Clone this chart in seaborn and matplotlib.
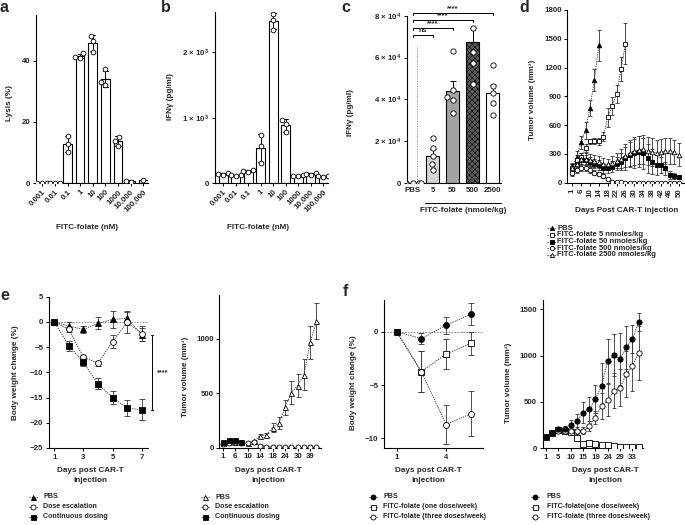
import numpy as np
import pandas as pd
import matplotlib
matplotlib.use('Agg')
import matplotlib.pyplot as plt
from matplotlib.lines import Line2D
import matplotlib.transforms as mtransforms
import seaborn as sns

# ---------------- data ----------------
# panel a: lysis (%) replicates per FITC-folate concentration
a_conc = ['0.001', '0.01', '0.1', '1', '10', '100', '1000', '10,000', '100,000']
a_lysis = [[0.0, 0.0, 0.0], [0.0, 0.0, 0.0], [15.5, 12.8, 10.0], [42.5, 41.0, 41.3],
           [48.2, 46.5, 43.0], [37.2, 33.0, 32.0], [15.2, 12.2, 13.8], [0.3, 0.8], [1.0]]
# panel b: IFNg (pg/ml) replicates
b_conc = ['0.001', '0.01', '0.1', '1', '10', '100', '1000', '10,000', '100,000']
b_ifng = [[150, 120, 140], [125, 110, 120], [195, 170, 180], [730, 570, 300],
          [2590, 2505, 2345], [970, 900, 780], [130, 100, 110], [150, 130, 140], [110, 95, 100]]
# panel c: IFNg in vivo
c_groups = ['PBS', '5', '50', '500', '2500']
c_mean = [0, 13100, 44000, 67200, 43100]
c_sem = [0, 3300, 4900, 6700, 3700]
c_points = [[0, 0, 0, 0, 0], [21600, 16500, 12900, 9300, 6400],
            [63100, 44700, 41200, 39600, 33500], [74000, 62800, 57200, 47300],
            [56400, 46500, 43200, 38400, 32700]]
c_colors = ['#ffffff', '#d6d6d6', '#a3a3a3', '#5e5e5e', '#ffffff']
c_sig_labels = ['ns', '****', '****', '****']
c_sig_heights = [70800, 74200, 78000, 81300]
# panel d: tumor volume
d_days = [1, 4, 6, 8, 10, 12, 14, 16, 18, 20, 22, 24, 26, 28, 30, 32, 34, 36, 38, 40, 42, 44, 46, 48, 50]
d_pbs = [170, 270, 420, 545, 780, 1075, 1430]
d_pbs_err = [40, 60, 70, 90, 85, 115, 165]
d_5 = [150, 240, 270, 360, 430, 435, 430, 480, 680, 800, 925, 1185, 1450]
d_5_err = [40, 50, 40, 40, 30, 30, 40, 45, 95, 95, 95, 120, 215]
d_50 = [120, 200, 240, 236, 220, 200, 185, 150, 150, 167, 200, 220, 255, 290, 305, 325,
        305, 255, 220, 185, 185, 150, 80, 70, 60]
d_50_err = [40, 50, 50, 50, 50, 50, 50, 50, 50, 60, 70, 90, 120, 130, 150, 160,
            160, 150, 130, 100, 80, 70, 40, 30, 25]
d_500 = [100, 130, 150, 150, 130, 105, 90, 70, 35, 12, 5, 3, 2, 2, 2, 2, 2, 2, 2, 2, 2, 2, 2, 2, 2]
d_500_err = [30, 30, 30, 30, 30, 25, 25, 20, 15, 8, 4, 2, 2, 2, 2, 2, 2, 2, 2, 2, 2, 2, 2, 2, 2]
d_2500 = [150, 200, 250, 250, 240, 225, 215, 200, 190, 210, 230, 250, 280, 310, 330, 340,
          350, 330, 320, 310, 320, 330, 330, 320, 290]
d_2500_err = [40, 50, 60, 60, 60, 60, 60, 60, 60, 70, 80, 100, 120, 140, 150, 150,
              150, 150, 150, 140, 140, 140, 140, 130, 120]
d_labels = ['PBS', 'FITC-folate 5 nmoles/kg', 'FITC-folate 50 nmoles/kg',
            'FITC-folate 500 nmoles/kg', 'FITC-folate 2500 nmoles/kg']
# panel e (left): body weight change
e1_days = [1, 2, 3, 4, 5, 6, 7]
e1_pbs = [0, -0.8, -1.5, -0.3, 0.5, 0.7, -2.5]
e1_pbs_err = [0.2, 0.8, 0.7, 1.2, 1.7, 1.4, 1.2]
e1_esc = [0, -1.5, -7.0, -8.2, -3.9, -0.1, -2.3]
e1_esc_err = [0.2, 0.5, 0.5, 0.5, 1.3, 2.0, 1.4]
e1_cont = [0, -4.7, -8.0, -12.3, -15.0, -17.1, -17.4]
e1_cont_err = [0.2, 1.0, 0.8, 1.1, 1.3, 1.6, 2.1]
e_labels = ['PBS', 'Dose escalation', 'Continuous dosing']
# panel e (right): tumor volume
e2_days = [1, 3, 6, 8, 10, 12, 14, 16, 18, 21, 24, 27, 30, 35, 39, 42]
e2_pbs = [45, 55, 55, 50, 45, 60, 110, 115, 185, 225, 370, 505, 570, 670, 965, 1160]
e2_pbs_err = [10, 10, 10, 10, 10, 15, 15, 20, 45, 55, 70, 105, 105, 140, 155, 165]
e2_esc = [30, 45, 50, 45, 45, 50, 18, 9, 5, 5, 4, 3, 2, 2, 2, 2]
e2_esc_err = [8, 10, 10, 8, 8, 10, 6, 4, 3, 3, 2, 2, 1, 1, 1, 1]
e2_cont = [55, 70, 72, 50]
e2_cont_err = [10, 12, 12, 10]
# panel f (left): body weight change
f1_days = [1, 2.5, 4, 5.5]
f1_pbs = [0, -0.65, 0.6, 1.65]
f1_pbs_err = [0.1, 0.5, 0.8, 1.0]
f1_one = [0, -3.75, -2.1, -1.1]
f1_one_err = [0.1, 1.9, 1.4, 1.1]
f1_three = [0, -3.75, -8.7, -7.7]
f1_three_err = [0.1, 1.9, 1.8, 2.1]
f1_labels = ['PBS', 'FITC-folate (one dose/week)', 'FITC-folate (three doses/week)']
# panel f (right): tumor volume
f2_days = [1, 3, 5, 8, 10, 12, 15, 17, 19, 22, 24, 26, 29, 31, 33, 36]
f2_pbs = [125, 160, 205, 210, 250, 290, 385, 420, 530, 675, 940, 1005, 960, 1090, 1180, 1365]
f2_pbs_err = [15, 20, 25, 30, 60, 80, 110, 130, 150, 240, 240, 230, 280, 230, 150, 100]
f2_one = [125, 160, 200, 190, 180, 108, 47, 54, 47, 36, 36, 25, 11, 11, 18, 18]
f2_one_err = [15, 20, 25, 25, 30, 20, 15, 15, 15, 15, 15, 10, 5, 5, 5, 5]
f2_three = [125, 160, 190, 185, 185, 190, 190, 240, 330, 460, 520, 620, 655, 800, 890, 1030]
f2_three_err = [15, 20, 25, 25, 30, 35, 40, 50, 70, 140, 170, 190, 200, 250, 270, 290]
f2_labels = ['PBS', 'FITC-folate(one dose/week)', 'FITC-folate (three doses/week)']

# ---------------- style ----------------
sns.set_style('ticks')
plt.rcParams.update({
    'font.family': ['Liberation Sans', 'DejaVu Sans'],
    'font.weight': 'bold',
    'axes.labelweight': 'bold',
    'mathtext.fontset': 'custom',
    'mathtext.rm': 'Liberation Sans:bold',
    'mathtext.it': 'Liberation Sans:bold:italic',
    'mathtext.bf': 'Liberation Sans:bold',
    'hatch.linewidth': 0.4,
    'hatch.color': '#222222',
    'axes.linewidth': 0.8,
})

W, H = 685, 525
fig = plt.figure(figsize=(W / 100, H / 100), dpi=100)

TICK_FS = 5.7
LAB_FS = 5.9
LEG_FS = 5.1
LINE_C = '#333333'
LINE_LS = (0, (1.6, 1.2))


def add_ax(rect):
    l, t, r, b = rect
    ax = fig.add_axes([l / W, 1 - b / H, (r - l) / W, (b - t) / H])
    return ax


def style(ax):
    sns.despine(ax=ax)
    for s in ['left', 'bottom']:
        ax.spines[s].set_linewidth(0.8)
        ax.spines[s].set_color('black')
    ax.tick_params(direction='out', length=2.5, width=0.7, labelsize=TICK_FS, pad=1.5,
                   color='black')


def ylabel(ax, rect, text, cx, cy):
    l, t, r, b = rect
    ax.set_ylabel(text, fontsize=LAB_FS)
    ax.yaxis.set_label_coords((cx + 4 - l) / (r - l), (b - cy) / (b - t))


def xlabel(ax, rect, text, cx, ctop, ls=1.2):
    l, t, r, b = rect
    ax.set_xlabel(text, fontsize=LAB_FS, linespacing=ls)
    ax.xaxis.set_label_coords((cx - l) / (r - l), (b - ctop) / (b - t))


def series(ax, x, y, err, marker, mfc, ms, cs=1.5, z=3):
    sns.lineplot(x=x, y=y, ax=ax, color=LINE_C, linewidth=0.6, linestyle=LINE_LS,
                 marker=marker, markersize=ms, markerfacecolor=mfc, markeredgecolor='black',
                 markeredgewidth=0.6, errorbar=None, zorder=z)
    ax.errorbar(x, y, yerr=err, fmt='none', ecolor=LINE_C, elinewidth=0.6, capsize=cs,
                capthick=0.6, zorder=2)


def legend(entries, hx, tx, ys, fs=LEG_FS, ms=3.5):
    for (mk, mfc, lab), y in zip(entries, ys):
        yf = 1 - y / H
        fig.add_artist(Line2D([(hx - 4.5) / W, (hx + 4.5) / W], [yf, yf], color=LINE_C,
                              lw=0.6, ls=LINE_LS))
        fig.add_artist(Line2D([hx / W], [yf], marker=mk, mfc=mfc, mec='black', mew=0.6,
                              ms=ms, ls='none'))
        fig.text(tx / W, yf, lab, fontsize=fs, va='center', ha='left')


def panel_letter(x, y, s):
    fig.text(x / W, 1 - y / H, s, fontsize=11.5, fontweight='bold', ha='left', va='center')


# ---------------- panel a ----------------
ra = (36, 15, 148.3, 183)
axa = add_ax(ra)
dfa = pd.DataFrame({'conc': [c for c, v in zip(a_conc, a_lysis) for _ in v],
                    'lysis': [x for v in a_lysis for x in v]})
sns.barplot(data=dfa, x='conc', y='lysis', order=a_conc, errorbar='sd', capsize=0.4,
            color='white', edgecolor='black', linewidth=0.8, width=0.68,
            err_kws={'color': 'black', 'linewidth': 0.7}, ax=axa)
sns.swarmplot(data=dfa, x='conc', y='lysis', order=a_conc, color='white', edgecolor='black',
              linewidth=0.6, size=3.4, ax=axa, zorder=4)
axa.set_xlim(-0.5, 8.4)
axa.set_ylim(0, 55)
axa.set_yticks([0, 20, 40])
style(axa)
axa.set_xticklabels(a_conc, rotation=45, ha='right', rotation_mode='anchor')
ylabel(axa, ra, 'Lysis (%)', 9, 103)
xlabel(axa, ra, 'FITC-folate (nM)', 87, 224)
panel_letter(0, 7, 'a')

# ---------------- panel b ----------------
rb = (215, 12, 328.3, 183)
axb = add_ax(rb)
dfb = pd.DataFrame({'conc': [c for c, v in zip(b_conc, b_ifng) for _ in v],
                    'ifng': [x for v in b_ifng for x in v]})
sns.barplot(data=dfb, x='conc', y='ifng', order=b_conc, errorbar='sd', capsize=0.4,
            color='white', edgecolor='black', linewidth=0.8, width=0.72,
            err_kws={'color': 'black', 'linewidth': 0.7}, ax=axb)
sns.swarmplot(data=dfb, x='conc', y='ifng', order=b_conc, color='white', edgecolor='black',
              linewidth=0.6, size=3.4, ax=axb, zorder=4)
axb.set_xlim(-0.64, 8.42)
axb.set_ylim(0, 2620)
axb.set_yticks([0, 1000, 2000])
axb.set_yticklabels(['0', r'1 × 10$^{3}$', r'2 × 10$^{3}$'])
style(axb)
axb.set_xticklabels(b_conc, rotation=45, ha='right', rotation_mode='anchor')
ylabel(axb, rb, 'IFNγ (pg/ml)', 170, 97)
xlabel(axb, rb, 'FITC-folate (nM)', 258, 224)
panel_letter(161, 7, 'b')

# ---------------- panel c ----------------
rc = (407, 15.7, 500.7, 183)
axc = add_ax(rc)
dfc_bar = pd.DataFrame({'dose': c_groups, 'ifng': c_mean})
sns.barplot(data=dfc_bar, x='dose', y='ifng', hue='dose', order=c_groups, hue_order=c_groups,
            palette=c_colors, legend=False, errorbar=None, edgecolor='black', linewidth=0.8,
            width=0.65, saturation=1, ax=axc)
for p in axc.patches:
    cx = p.get_x() + p.get_width() / 2
    if abs(cx - c_groups.index('500')) < 0.1:
        p.set_hatch('xxxxxx')
pos = np.arange(len(c_groups))
axc.errorbar(pos[1:], c_mean[1:], yerr=[np.zeros(len(pos) - 1), c_sem[1:]], fmt='none',
             ecolor='black', elinewidth=0.7, capsize=2.2, capthick=0.7, zorder=3)
dfc = pd.DataFrame({'dose': [g for g, v in zip(c_groups, c_points) for _ in v],
                    'ifng': [x for v in c_points for x in v]})
sns.swarmplot(data=dfc, x='dose', y='ifng', order=c_groups, color='white', edgecolor='black',
              linewidth=0.6, size=3.8, ax=axc, zorder=4)
axc.plot([0.2, 0.2], [0, 65500], color='#888888', lw=0.6, ls=(0, (1, 1)))
for i, (yb, lb) in enumerate(zip(c_sig_heights, c_sig_labels), start=1):
    axc.plot([0.04, 0.04, i, i], [yb - 1100, yb, yb, yb - 1100], color='black', lw=0.7,
             clip_on=False)
    axc.text((0.04 + i) / 2, yb + 250, lb, ha='center', va='bottom', fontsize=5.2,
             clip_on=False)
axc.set_xlim(-0.28, 4.41)
axc.set_ylim(0, 80000)
axc.set_yticks([0, 20000, 40000, 60000, 80000])
axc.set_yticklabels(['0', r'2 × 10$^{4}$', r'4 × 10$^{4}$', r'6 × 10$^{4}$', r'8 × 10$^{4}$'])
style(axc)
axc.tick_params(axis='x', length=0, pad=3)
trc = mtransforms.blended_transform_factory(axc.transData, axc.transAxes)
axc.plot([0.63, 4.41], [-(202.7 - 183) / (183 - 15.7)] * 2, color='black', lw=0.7,
         transform=trc, clip_on=False)
ylabel(axc, rc, 'IFNγ (pg/ml)', 350, 113)
xlabel(axc, rc, 'FITC-folate (nmole/kg)', 463, 207)
panel_letter(341, 7, 'c')

# ---------------- panel d ----------------
rd = (567.3, 10, 685, 182.7)
axd = add_ax(rd)
dx = np.arange(len(d_days))
d_series = [(d_pbs, d_pbs_err, '^', 'black'), (d_5, d_5_err, 's', 'white'),
            (d_50, d_50_err, 's', 'black'), (d_500, d_500_err, 'o', 'white'),
            (d_2500, d_2500_err, '^', 'white')]
for yv, ev, mk, mfc in d_series:
    series(axd, dx[:len(yv)], yv, ev, mk, mfc, ms=3.3, cs=1.3)
axd.set_xlim(-1.1, 25.4)
axd.set_ylim(0, 1800)
axd.set_yticks([0, 300, 600, 900, 1200, 1500, 1800])
axd.set_xticks(dx[::2])
style(axd)
axd.set_xticklabels([str(v) for v in d_days[::2]], rotation=90)
ylabel(axd, rd, 'Tumor volume (mm³)', 532, 100)
xlabel(axd, rd, 'Days Post CAR-T injection', 627, 207.5)
legend([(mk, mfc, lab) for (_, _, mk, mfc), lab in zip(d_series, d_labels)], 551.7, 557,
       [228.3, 235, 241.7, 248.3, 255], fs=5.5, ms=3.0)
panel_letter(519, 7, 'd')

# ---------------- panel e left ----------------
re1 = (49, 296.7, 148, 448)
axe1 = add_ax(re1)
axe1.axhline(0, color='#777777', lw=0.6, ls=(0, (2, 1.5)), zorder=1)
e1_series = [(e1_pbs, e1_pbs_err, '^', 'black'), (e1_esc, e1_esc_err, 'o', 'white'),
             (e1_cont, e1_cont_err, 's', 'black')]
for yv, ev, mk, mfc in e1_series:
    series(axe1, e1_days, yv, ev, mk, mfc, ms=4.2, cs=2.2)
axe1.set_xlim(0.64, 7.43)
axe1.set_ylim(-25, 5)
axe1.set_xticks([1, 3, 5, 7])
axe1.set_yticks([5, 0, -5, -10, -15, -20, -25])
style(axe1)
axe1.plot([7.71, 7.71], [-2.5, -17.5], color='black', lw=0.7, clip_on=False)
axe1.plot([7.62, 7.80], [-2.5, -2.5], color='black', lw=0.7, clip_on=False)
axe1.plot([7.62, 7.80], [-17.5, -17.5], color='black', lw=0.7, clip_on=False)
axe1.text(8.47, -10, '****', fontsize=5.2, ha='center', va='center', clip_on=False)
ylabel(axe1, re1, 'Body weight change (%)', 15, 373)
xlabel(axe1, re1, 'Days post CAR-T\ninjection', 90, 467, ls=1.55)
legend([(mk, mfc, lab) for (_, _, mk, mfc), lab in zip(e1_series, e_labels)], 33, 43,
       [496.7, 506.7, 516.7], ms=3.6)
panel_letter(0, 295, 'e')

# ---------------- panel e right ----------------
re2 = (219.3, 295, 320.7, 447.7)
axe2 = add_ax(re2)
ex = np.arange(len(e2_days))
e2_series = [(e2_pbs, e2_pbs_err, '^', 'white'), (e2_esc, e2_esc_err, 'o', 'white'),
             (e2_cont, e2_cont_err, 's', 'black')]
for yv, ev, mk, mfc in e2_series:
    series(axe2, ex[:len(yv)], yv, ev, mk, mfc, ms=3.6, cs=1.8)
axe2.set_xlim(-0.54, 15.68)
axe2.set_ylim(0, 1400)
axe2.set_yticks([0, 500, 1000])
axe2.set_xticks(ex[::2])
style(axe2)
axe2.set_xticklabels([str(v) for v in e2_days[::2]])
ylabel(axe2, re2, 'Tumor volume (mm³)', 185, 377)
xlabel(axe2, re2, 'Days post CAR-T\ninjection', 268, 467, ls=1.55)
legend([(mk, mfc, lab) for (_, _, mk, mfc), lab in zip(e2_series, e_labels)], 205, 215,
       [497.3, 507.0, 516.7], ms=3.6)

# ---------------- panel f left ----------------
rf1 = (384, 300, 483, 448)
axf1 = add_ax(rf1)
axf1.axhline(0, color='#777777', lw=0.6, ls=(0, (2, 1.5)), zorder=1)
f1_series = [(f1_pbs, f1_pbs_err, 'o', 'black'), (f1_one, f1_one_err, 's', 'white'),
             (f1_three, f1_three_err, 'o', 'white')]
for k, (yv, ev, mk, mfc) in enumerate(f1_series):
    series(axf1, f1_days, yv, ev, mk, mfc, ms=4.3, cs=2.2, z=5 if k == 0 else 3)
axf1.set_xlim(0.23, 6.25)
axf1.set_ylim(-10.9, 2.97)
axf1.set_xticks([1, 4])
axf1.set_yticks([0, -5, -10])
style(axf1)
ylabel(axf1, rf1, 'Body weight change (%)', 353, 383)
xlabel(axf1, rf1, 'Days post CAR-T\ninjection', 428, 467, ls=1.55)
legend([(mk, mfc, lab) for (_, _, mk, mfc), lab in zip(f1_series, f1_labels)], 373, 383,
       [496.7, 506.7, 516.7], ms=3.6)
panel_letter(343, 292, 'f')

# ---------------- panel f right ----------------
rf2 = (542.7, 300, 643, 448.3)
axf2 = add_ax(rf2)
fx = np.arange(len(f2_days))
f2_series = [(f2_pbs, f2_pbs_err, 'o', 'black'), (f2_one, f2_one_err, 's', 'white'),
             (f2_three, f2_three_err, 'o', 'white')]
for k, (yv, ev, mk, mfc) in enumerate(f2_series):
    series(axf2, fx[:len(yv)], yv, ev, mk, mfc, ms=3.8, cs=1.6, z=5 if k == 0 else 3)
axf2.set_xlim(-0.53, 15.7)
axf2.set_ylim(0, 1600)
axf2.set_yticks([0, 500, 1000, 1500])
axf2.set_xticks(fx[::2])
style(axf2)
axf2.set_xticklabels([str(v) for v in f2_days[::2]])
ylabel(axf2, rf2, 'Tumor volume (mm³)', 508, 383)
xlabel(axf2, rf2, 'Days post CAR-T\ninjection', 605, 467, ls=1.55)
legend([(mk, mfc, lab) for (_, _, mk, mfc), lab in zip(f2_series, f2_labels)], 535, 546.7,
       [496.7, 506.7, 516.7], ms=3.6)

fig.savefig('out.png', dpi=100)
